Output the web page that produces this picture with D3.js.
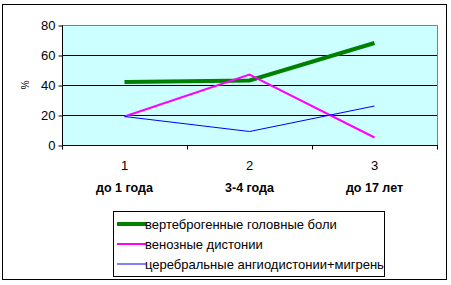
<!DOCTYPE html>
<html>
<head>
<meta charset="utf-8">
<script src="https://cdn.jsdelivr.net/npm/d3@7"></script>
<style>
  body { margin: 0; background: #fff; }
  text { font-family: "Liberation Sans", Arial, sans-serif; }
</style>
</head>
<body>
<div id="chart"></div>
<script>
// donnees
var categories = ["1", "2", "3"];
var groupLabels = ["до 1 года", "3-4 года", "до 17 лет"];
var yTicks = [0, 20, 40, 60, 80];
var seriesNames = ["вертеброгенные головные боли", "венозные дистонии", "церебральные ангиодистонии+мигрень"];
var vertebro = [42, 43, 68];
var venous = [19, 47, 5];
var cerebral = [19, 9, 26];

var seriesStyle = [
    {color: "#008000", width: 4},
    {color: "#ff00ff", width: 2},
    {color: "#0000ff", width: 1}
];
var seriesData = [vertebro, venous, cerebral];

var width = 451, height = 285;
var plot = {left: 62, right: 437, top: 25, bottom: 145};

var svg = d3.select("#chart").append("svg")
    .attr("width", width)
    .attr("height", height);

// cadre exterieur
svg.append("rect")
    .attr("x", 2.5).attr("y", 4.5)
    .attr("width", 444).attr("height", 275)
    .attr("fill", "#fff")
    .attr("stroke", "#000");

var x = d3.scaleBand()
    .domain(categories)
    .range([plot.left, plot.right]);
var y = d3.scaleLinear()
    .domain([0, 80])
    .range([plot.bottom, plot.top]);

// fond de la zone de trace
svg.append("rect")
    .attr("x", plot.left).attr("y", plot.top)
    .attr("width", plot.right - plot.left).attr("height", plot.bottom - plot.top)
    .attr("fill", "#ccffff");

// grille
svg.selectAll(".grid")
    .data(yTicks.filter(function(d) { return d > 0 && d < 80; }))
    .enter().append("line")
    .attr("x1", plot.left).attr("x2", plot.right)
    .attr("y1", function(d) { return y(d) + 0.5; })
    .attr("y2", function(d) { return y(d) + 0.5; })
    .attr("stroke", "#000");

// bord gris haut et droite
svg.append("path")
    .attr("d", "M" + plot.left + "," + (plot.top + 0.5) + "H" + (plot.right + 0.5) + "V" + plot.bottom)
    .attr("fill", "none")
    .attr("stroke", "#808080");

// axe y
var yAxis = svg.append("g")
    .attr("transform", "translate(" + (plot.left + 0.5) + ",0.5)")
    .call(d3.axisLeft(y).tickValues(yTicks).tickSize(4).tickPadding(3));
yAxis.select(".domain").attr("stroke", "#000").attr("d", "M0," + (plot.top) + "V" + plot.bottom);
yAxis.selectAll("text").attr("font-size", "13px").attr("fill", "#000")
    .style("font-family", "'Liberation Sans', Arial, sans-serif");

svg.append("text")
    .attr("transform", "translate(21,85) rotate(90)")
    .attr("text-anchor", "middle")
    .attr("font-size", "10px")
    .text("%");

// axe x
var xAxis = svg.append("g")
    .attr("transform", "translate(0," + (plot.bottom + 0.5) + ")");
xAxis.append("line")
    .attr("x1", plot.left).attr("x2", plot.right + 1)
    .attr("stroke", "#000");
xAxis.selectAll(".tk")
    .data(categories.concat(["end"]))
    .enter().append("line")
    .attr("x1", function(d, i) { return plot.left + i * x.bandwidth() + 0.5; })
    .attr("x2", function(d, i) { return plot.left + i * x.bandwidth() + 0.5; })
    .attr("y1", 0).attr("y2", 4)
    .attr("stroke", "#000");

svg.selectAll(".catLabel")
    .data(categories)
    .enter().append("text")
    .attr("x", function(d) { return x(d) + x.bandwidth() / 2; })
    .attr("y", 170)
    .attr("text-anchor", "middle")
    .attr("font-size", "13px")
    .text(function(d) { return d; });

svg.selectAll(".groupLabel")
    .data(groupLabels)
    .enter().append("text")
    .attr("x", function(d, i) { return x(categories[i]) + x.bandwidth() / 2; })
    .attr("y", 192)
    .attr("text-anchor", "middle")
    .attr("font-size", "12.5px")
    .attr("font-weight", "bold")
    .text(function(d) { return d; });

// courbes
var line = d3.line()
    .x(function(d, i) { return x(categories[i]) + x.bandwidth() / 2; })
    .y(function(d) { return y(d); });

svg.selectAll(".serie")
    .data(seriesData)
    .enter().append("path")
    .attr("d", line)
    .attr("fill", "none")
    .attr("stroke", function(d, i) { return seriesStyle[i].color; })
    .attr("stroke-width", function(d, i) { return seriesStyle[i].width; });

// legende
var legend = svg.append("g");
legend.append("rect")
    .attr("x", 113.5).attr("y", 211.5)
    .attr("width", 271).attr("height", 65)
    .attr("fill", "#fff")
    .attr("stroke", "#000");

var items = legend.selectAll(".item")
    .data(seriesNames)
    .enter().append("g")
    .attr("transform", function(d, i) { return "translate(0," + (224 + i * 20) + ")"; });
items.append("line")
    .attr("x1", 117).attr("x2", 146)
    .attr("stroke", function(d, i) { return seriesStyle[i].color; })
    .attr("stroke-width", function(d, i) { return seriesStyle[i].width; });
items.append("text")
    .attr("x", 145)
    .attr("y", 4.5)
    .attr("font-size", "13px")
    .text(function(d) { return d; });
</script>
</body>
</html>
